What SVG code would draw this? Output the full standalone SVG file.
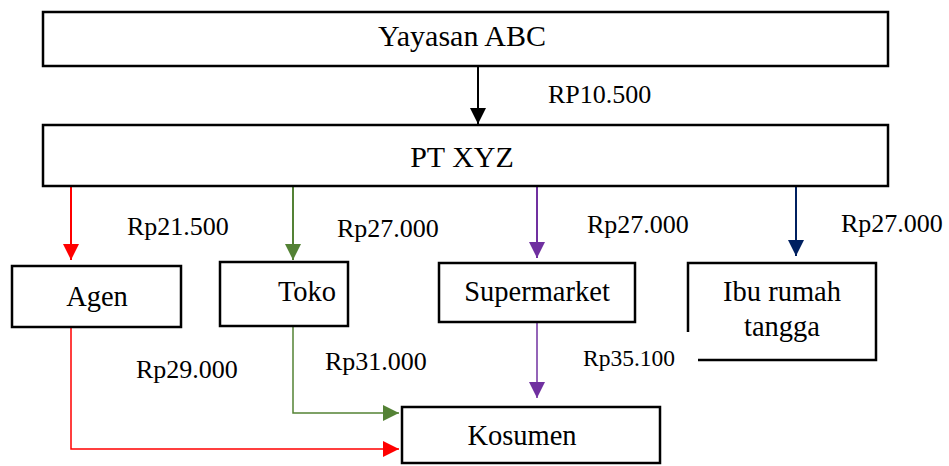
<svg xmlns="http://www.w3.org/2000/svg" width="949" height="466" viewBox="0 0 949 466">
<style>
.box{fill:#fff;stroke:#000;stroke-width:2.5}
.t{font-family:'Liberation Serif','Times New Roman',Times,'DejaVu Serif',serif;font-size:28.5px;fill:#000;text-anchor:middle}
.big{font-size:30px}
.l{font-family:'Liberation Serif','Times New Roman',Times,'DejaVu Serif',serif;font-size:26px;fill:#000}
.c{fill:none}
</style>
<defs>
<marker id="mk" markerUnits="userSpaceOnUse" markerWidth="16" markerHeight="16" refX="16" refY="8" orient="auto"><path d="M0,0 L16,8 L0,16 z" fill="#000"/></marker>
<marker id="mr" markerUnits="userSpaceOnUse" markerWidth="16" markerHeight="16" refX="16" refY="8" orient="auto"><path d="M0,0 L16,8 L0,16 z" fill="#FF0000"/></marker>
<marker id="mg" markerUnits="userSpaceOnUse" markerWidth="16" markerHeight="16" refX="16" refY="8" orient="auto"><path d="M0,0 L16,8 L0,16 z" fill="#548235"/></marker>
<marker id="mp" markerUnits="userSpaceOnUse" markerWidth="16" markerHeight="16" refX="16" refY="8" orient="auto"><path d="M0,0 L16,8 L0,16 z" fill="#7030A0"/></marker>
<marker id="mn" markerUnits="userSpaceOnUse" markerWidth="16" markerHeight="16" refX="16" refY="8" orient="auto"><path d="M0,0 L16,8 L0,16 z" fill="#002060"/></marker>
</defs>
<rect width="949" height="466" fill="#fff"/>
<g id="connectors" class="c">
<path d="M478,66 V124" stroke="#000" stroke-width="2" marker-end="url(#mk)"/>
<path d="M71,186 V260" stroke="#FF0000" stroke-width="2" marker-end="url(#mr)"/>
<path d="M293,186 V260" stroke="#548235" stroke-width="2" marker-end="url(#mg)"/>
<path d="M537,186 V258" stroke="#7030A0" stroke-width="2" marker-end="url(#mp)"/>
<path d="M796,186 V256" stroke="#002060" stroke-width="2" marker-end="url(#mn)"/>
<path d="M71,327 V449 H399" stroke="#FF0000" stroke-width="1.5" marker-end="url(#mr)"/>
<path d="M293,326 V413 H399" stroke="#548235" stroke-width="1.5" marker-end="url(#mg)"/>
<path d="M537,322 V398" stroke="#7030A0" stroke-width="1.5" marker-end="url(#mp)"/>
</g>
<g id="yayasan"><rect class="box" x="43" y="12" width="845" height="54"/><text class="t big" x="462" y="46">Yayasan ABC</text></g>
<g id="ptxyz"><rect class="box" x="43" y="125" width="845" height="61"/><text class="t big" x="462" y="167">PT XYZ</text></g>
<g id="agen"><rect class="box" x="12" y="266" width="169" height="61"/><text class="t" x="97" y="306">Agen</text></g>
<g id="toko"><rect class="box" x="220" y="262" width="128" height="64"/><text class="t" x="307" y="301">Toko</text></g>
<g id="supermarket"><rect class="box" x="439" y="263" width="196" height="59"/><text class="t" x="537" y="301">Supermarket</text></g>
<g id="ibu"><path d="M688,332 V263 H876 V360 H698" fill="none" stroke="#000" stroke-width="2.5"/><text class="t" x="782" y="301">Ibu rumah</text><text class="t" x="782" y="336">tangga</text></g>
<g id="kosumen"><rect class="box" x="402" y="407" width="258" height="56"/><text class="t" x="522" y="445">Kosumen</text></g>
<g id="labels">
<text class="l" x="548" y="103">RP10.500</text>
<text class="l" x="127" y="235">Rp21.500</text>
<text class="l" x="337" y="237">Rp27.000</text>
<text class="l" x="587" y="233">Rp27.000</text>
<text class="l" x="841" y="232">Rp27.000</text>
<text class="l" x="136" y="378">Rp29.000</text>
<text class="l" x="325" y="370">Rp31.000</text>
<text class="l" x="583" y="366" style="font-size:23.5px">Rp35.100</text>
</g>
</svg>
